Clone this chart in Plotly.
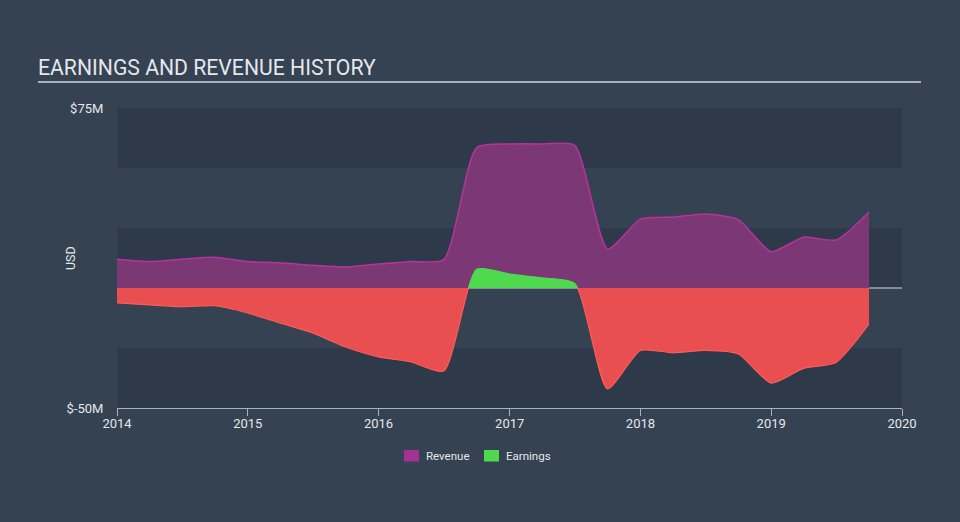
import plotly.graph_objects as go

dates = ["2014-01-01", "2014-04-01", "2014-07-01", "2014-10-01",
         "2015-01-01", "2015-04-01", "2015-07-01", "2015-10-01",
         "2016-01-01", "2016-04-01", "2016-07-01", "2016-10-01",
         "2017-01-01", "2017-04-01", "2017-07-01", "2017-10-01",
         "2018-01-01", "2018-04-01", "2018-07-01", "2018-10-01",
         "2019-01-01", "2019-04-01", "2019-07-01", "2019-10-01"]
revenue = [12, 11, 12, 12.8, 11, 10.5, 9.5, 8.8,
           10, 11, 11.8, 58.5, 60, 60, 59.5, 16.2,
           28.7, 29.5, 30.8, 28.5, 15.1, 21.2, 20, 31.7]
earnings = [-6.2, -7, -7.8, -7.4, -10.4, -14.6, -18.7, -24.6,
            -28.7, -30.8, -34.6, 7.8, 5.8, 4.2, 2.0, -42,
            -26, -27, -26, -27.5, -39.6, -33.5, -31, -15]
series_names = ["Revenue", "Earnings"]
y_ticks = [-50, 75]
y_tick_text = ["$-50M", "$75M"]
x_ticks = ["2014-01-01", "2015-01-01", "2016-01-01", "2017-01-01",
           "2018-01-01", "2019-01-01", "2020-01-01"]
x_tick_text = ["2014", "2015", "2016", "2017", "2018", "2019", "2020"]
band_edges = [(50, 75), (0, 25), (-50, -25)]

BG = "#344252"
BAND = "#2e3a4a"
TXT = "#e4e7eb"
AX = "#a9b3bd"
FONT = "Roboto"
SMOOTH = 0.6
REV_LEG = "#a33292"
EARN_C = "#4fd94f"

# plot area in pixels: x 117..902, y 108..408
L, R, T, B = 117, 902, 108, 408
def px(x):
    return (x - L) / (R - L)
def py(y):
    return (B - y) / (B - T)

fig = go.Figure()

fig.add_trace(go.Scatter(
    x=dates, y=revenue, mode="lines", fill="tozeroy", name=series_names[0],
    line=dict(color="#b5339e", width=1.5, shape="spline", smoothing=SMOOTH),
    fillcolor="#7c3875", showlegend=False, hoverinfo="skip"))

fig.add_trace(go.Scatter(
    x=dates, y=earnings, mode="lines", fill="tozeroy", yaxis="y2", name=series_names[1],
    line=dict(color="#ff5a5a", width=1.2, shape="spline", smoothing=SMOOTH),
    fillcolor="#e94f51", showlegend=False, hoverinfo="skip"))

fig.add_trace(go.Scatter(
    x=dates, y=earnings, mode="lines", fill="tozeroy", yaxis="y3", name=series_names[1],
    line=dict(color=EARN_C, width=1.2, shape="spline", smoothing=SMOOTH),
    fillcolor=EARN_C, showlegend=False, hoverinfo="skip"))

shapes = []
for lo, hi in band_edges:
    shapes.append(dict(type="rect", xref="x", yref="y", x0=x_ticks[0], x1=x_ticks[-1],
                       y0=lo, y1=hi, fillcolor=BAND, line=dict(width=0), layer="below"))
shapes.append(dict(type="line", xref="x", yref="y", x0=x_ticks[0], x1=x_ticks[-1],
                   y0=0, y1=0, line=dict(color="#d5d9de", width=1.2), layer="below"))
shapes.append(dict(type="line", xref="paper", yref="paper", x0=px(38), x1=px(921),
                   y0=py(82), y1=py(82), line=dict(color="#a8b0b8", width=2)))

# legend (drawn manually)
legend_items = [(series_names[0], REV_LEG, 404), (series_names[1], EARN_C, 484)]
annotations = []
for name, col, x0 in legend_items:
    shapes.append(dict(type="rect", xref="paper", yref="paper", x0=px(x0), x1=px(x0 + 15),
                       y0=py(461.5), y1=py(450), fillcolor=col, line=dict(width=0)))
    annotations.append(dict(text=name, xref="paper", yref="paper", x=px(x0 + 20), y=py(456),
                            xanchor="left", yanchor="middle", showarrow=False,
                            font=dict(size=11.5, color=TXT)))

annotations.append(dict(text="USD", xref="paper", yref="paper", x=px(70), y=0.5,
                        textangle=-90, showarrow=False, font=dict(size=12.5, color=TXT),
                        xanchor="center", yanchor="middle"))

fig.update_layout(
    width=960, height=522,
    margin=dict(l=L, r=960 - R, t=T, b=522 - B, autoexpand=False),
    paper_bgcolor=BG, plot_bgcolor="rgba(0,0,0,0)",
    font=dict(family=FONT, color=TXT, size=12),
    title=dict(text="EARNINGS AND REVENUE HISTORY", font=dict(family=FONT, size=21.2, color=TXT),
               xref="container", x=38/960, xanchor="left",
               yref="container", y=1-68/522, yanchor="middle"),
    xaxis=dict(type="date", range=[x_ticks[0], x_ticks[-1]], tickvals=x_ticks, ticktext=x_tick_text,
               showgrid=False, zeroline=False, showline=True, linecolor=AX, linewidth=1,
               ticks="outside", ticklen=7, tickcolor=AX, tickfont=dict(size=13, color=TXT),
               ticklabelstandoff=-4, automargin=False),
    yaxis=dict(range=[-50, 75], tickvals=y_ticks, ticktext=y_tick_text, showgrid=False,
               zeroline=False, showline=False, ticks="outside", ticklen=10,
               tickcolor="rgba(0,0,0,0)", tickfont=dict(size=13, color=TXT), domain=[0, 1],
               automargin=False),
    yaxis2=dict(range=[-50, 0], domain=[0, 0.4], visible=False, anchor="x"),
    yaxis3=dict(range=[0, 75], domain=[0.4, 1], visible=False, anchor="x"),
    shapes=shapes,
    annotations=annotations,
    showlegend=False,
    hovermode=False,
)

fig.write_html("out.html")
